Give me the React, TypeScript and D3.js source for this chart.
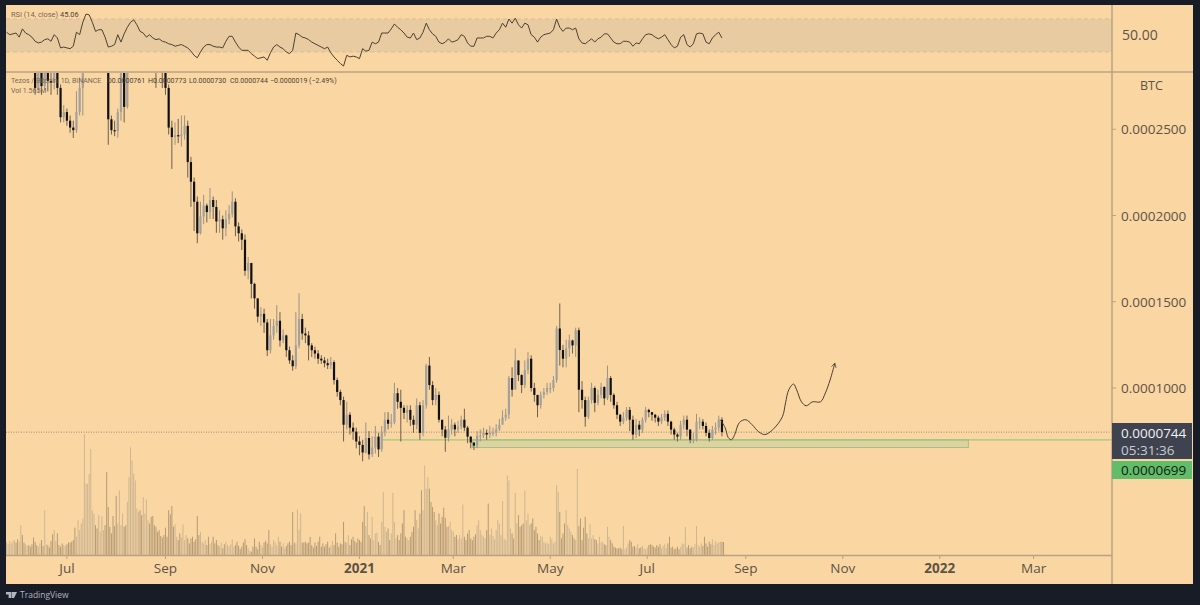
import React from 'react';
import * as d3 from 'd3';

const closes = [
  318,326,334,322,340,330,345,328,300,274,
  290,275,295,278,277,285,274,257,260,255,
  251,249.5,260,274,290,320,340,352,332,346,
  360,310,255.8,249.5,249,260,290,263,300,338,
  350,362,345,358,372,350,340,325,310,295,
  274,251,245.5,246.6,246,247,252,231,219.6,208,
  189.7,199.5,205.8,202,209,205,196.6,197.8,192.6,197.8,
  201,208,193.7,189.7,186,168,172.5,160.4,152,141.4,
  143,138,121.9,130.5,136,139,127.6,130.5,121.9,116,
  112.6,124.7,140,131.6,130.5,124.7,121.9,120,117,116,
  114.4,113.2,115,104.6,97.7,93,78.7,84.5,77,74.7,
  69,67,62.6,71,61.5,65.5,71.8,64.4,74.7,81.6,
  79.3,80,97,92,88.5,85.6,87.3,81.6,78.7,90,
  74,90,113,101.7,93,96,81.6,75.9,71.2,76,
  78.7,76,77.6,81.6,77,71.8,68.4,66.6,72.4,72.4,
  74,73,74,74,76,78.7,82.8,84.5,105.8,99,
  116,107.5,101.7,110.4,117,100,96,90,96,97.7,
  100,100,104.6,134.5,122,117,123,127.6,124.7,133.5,
  99,93,83.3,93,100,91.4,96,100.6,94,105.8,
  96,90,84.5,80.5,82.8,87.3,81.6,73,78.7,75.9,
  81.6,87.3,86,84.5,82.8,80.5,82.8,85,80.5,75.9,
  73,71.8,78.7,81.6,75.9,70,70,80.5,80.5,78,
  74,71,75.9,77,81.6,74.4,
];

const highs = [
  332,335,345,338,350,348,352,345,330,305,
  300,298,305,295,296,300,290,276,264,262,
  258,255,272,280,300,330,350,360,355,355,
  370,365,320,258,255,262,295,295,310,345,
  360,370,365,368,380,375,355,345,330,320,
  296,276,255,254,256,258,258,255,234,222,
  211,208,212,207,216,211,209,203,200,203,
  206,214,210,196,192,189,176,168,161,148,
  147,146,140,140,140,148,144,134,131,124,
  119,144,155,143,135,133,126,124,122,119,
  118,117,118,116,106,99,95,92,86,80,
  77,72,70,80,75,72,78,74,78,86,
  86,85,103,100,99,90,90,90,84,94,
  92,93,114,118,104,100,98,80,78,84,
  82,80,81,84,88,78,72,68,75,76,
  77,76,78,77,79,82,87,88,107,112,
  123,112,108,116,121,119,103,93,98,100,
  103,103,107,136,149,125,128,131,128,135,
  135,104,95,95,103,101,99,103,101,113,
  107,97,92,85,86,89,89,84,82,81,
  83,89,88,86,85,84,85,87,87,81,
  77,74,81,84,84,76,74,85,83,82,
  80,76,78,80,84,83,
];

const lows = [
  310,316,322,315,325,322,330,318,295,270,
  271,270,273,272,270,273,270,254,254,252,
  248,245,248,258,258,295,315,330,325,330,
  340,305,241,247,246,245,255,254,262,298,
  335,340,335,340,350,340,325,274,290,274,
  270,247,227,241,242,240,244,222,205,191,
  184,189,195,196,198,198,190,190,186,188,
  195,199,188,185,180,165,163,152,146,138,
  136,132,118.5,120,128,132,124,126,118,114,
  110,111,123,128,126,116,118,117,114,114,
  112,111,111,102,95,90,69,76,73,70,
  65,61,57.5,62,58.6,60,62,60,63,72,
  76,77,79,88,69,82,80,78,74,76,
  70,72,88,99,90,90,80,72,63,69,
  73,72,74,76,75,68,65,64,65,69,
  71,70,71,72,72,75,79,81,82,95,
  105,104,97,100,108,98,92,83,88,94,
  96,97,98,103,113,112,112,118,120,118,
  86,88,77.6,82,91,86,90,94,90,93,
  92,88,82,78,79,81,75,70,71,72,
  74,80,83,81,80,78,79,81,78,73,
  70,69,70,76,72,68,68,69,76,76,
  72,69,70,73,75,72,
];

const rsiValues = [
  54,51,52,53,48,58,53,51,48,43,
  41,42,45,46,43,51,47,35,36,35,
  34,37,54,51,66,76,75,66,55,57,
  57,48,36,37,39,51,42,52,60,66,
  69,63,55,53,48,51,47,45,46,43,
  42,40,39,37,38,39,37,35,31,26,
  23,30,36,39,39,37,36,36,35,43,
  49,49,42,36,32,32,32,28,25,22,
  23,24,20,29,36,39,36,34,30,28,
  32,53,51,48,47,45,42,40,38,36,
  34,36,29,24,20,16,13,26,24,25,
  24,22,34,31,32,42,40,42,53,53,
  53,58,64,60,57,53,48,47,53,45,
  47,54,65,57,52,49,42,40,42,46,
  42,43,45,51,49,41,37,37,47,47,
  47,49,49,47,53,57,65,60,70,65,
  71,63,59,65,63,51,48,42,48,51,
  52,53,57,70,60,55,59,59,57,59,
  46,41,40,43,46,42,46,48,52,52,
  47,42,40,40,43,43,42,37,41,40,
  46,51,52,51,48,46,48,51,45,39,
  35,37,48,51,39,36,40,52,53,52,
  42,40,47,51,54,47,
];

// volume in millions, one bar per day
const volumes = [
  1.6,1.3,1.7,1.4,1.7,1.8,1.5,1.9,1.6,3.6,
  2.4,1.5,1.3,1.1,1.2,1.0,1.3,2.1,1.6,1.2,
  1.0,1.4,1.8,1.1,5.4,1.3,1.2,0.9,1.7,2.5,
  3.0,1.7,2.6,1.2,1.0,1.4,1.2,1.1,1.3,1.5,
  1.5,1.6,1.8,3.3,2.2,4.2,3.0,3.8,4.4,14.6,
  8.6,8.6,9.8,12.8,5.4,5.0,3.6,3.2,4.8,2.8,
  4.7,3.0,3.6,10.0,5.8,3.4,2.6,4.7,3.5,7.1,
  3.8,7.8,3.6,5.0,3.4,3.6,6.4,9.4,13.0,11.4,
  9.8,9.0,5.6,5.2,5.4,4.8,7.0,5.0,6.7,4.2,
  3.8,4.6,4.7,3.6,3.4,2.8,3.0,2.3,2.1,2.4,
  3.3,2.2,5.4,4.9,5.9,3.4,3.7,2.2,1.8,2.6,
  2.1,3.7,1.8,2.4,2.0,1.4,2.0,2.2,1.6,1.9,
  4.7,2.4,2.8,1.6,1.4,1.8,1.2,2.2,1.3,1.6,
  2.2,1.4,1.8,1.2,1.0,1.5,0.8,1.3,1.6,1.2,
  1.0,1.3,1.9,1.0,1.2,1.6,1.1,0.7,1.0,1.5,
  1.9,1.2,0.8,0.5,0.4,1.0,2.0,1.0,0.7,1.6,
  1.2,0.9,1.5,1.7,1.4,3.0,1.3,1.0,1.8,1.5,
  1.2,2.2,1.6,1.0,1.4,0.8,1.1,1.4,1.6,1.2,
  5.2,1.5,1.4,5.5,3.0,5.0,1.5,1.5,1.6,1.4,
  1.5,2.2,1.2,0.9,1.5,1.1,1.6,2.2,1.0,1.4,
  1.0,1.3,1.6,0.9,1.1,1.7,1.2,2.6,1.5,1.0,
  1.4,1.3,4.0,1.6,1.5,2.4,1.2,1.9,2.2,1.7,
  1.5,2.0,1.8,1.6,4.0,5.9,3.5,5.2,2.4,2.0,
  4.6,1.8,2.6,2.7,1.6,1.2,4.0,7.6,3.4,2.8,
  3.2,1.8,2.6,7.5,4.0,2.0,2.4,1.8,2.6,3.8,
  5.4,2.2,2.0,1.8,2.2,2.8,3.4,5.4,4.2,3.2,
  5.0,7.8,5.4,10.8,8.0,9.4,8.0,6.4,5.8,5.2,
  4.2,3.6,5.0,3.8,4.6,5.7,4.5,3.4,3.5,4.0,
  3.0,2.8,2.2,2.4,1.9,2.4,2.0,6.1,2.2,1.8,
  2.6,3.0,2.0,1.8,2.2,2.5,3.6,4.2,3.0,2.4,
  2.2,2.0,3.0,6.2,2.4,3.2,2.3,1.9,3.0,4.2,
  3.8,2.4,6.5,2.0,1.8,9.6,9.0,3.2,2.6,2.0,
  7.5,3.8,4.8,3.4,3.6,3.8,7.8,4.2,5.0,3.6,
  3.8,4.4,3.0,3.4,2.6,1.8,2.3,2.2,1.6,1.4,
  1.5,1.3,2.2,1.9,1.4,1.6,8.4,7.6,5.2,2.0,
  2.6,3.8,5.4,3.6,3.2,2.8,2.4,2.0,1.8,10.4,
  3.5,4.4,1.8,3.3,4.6,2.6,2.0,3.7,2.0,2.4,
  1.9,1.8,1.4,2.2,1.5,1.6,1.3,1.2,3.4,2.2,
  1.8,1.4,1.0,0.9,0.8,0.8,0.9,0.7,3.5,0.7,
  0.9,1.4,1.8,1.6,1.0,1.1,0.9,1.3,0.8,0.9,
  1.1,0.8,0.7,0.9,1.2,1.3,1.2,1.0,0.9,1.2,
  1.0,1.3,0.8,1.1,1.3,0.8,1.4,2.2,0.9,1.0,
  0.7,0.8,1.0,0.7,1.0,1.4,1.3,3.4,0.9,1.2,
  0.8,1.0,0.9,1.3,3.5,1.2,1.0,1.4,1.1,2.2,
  1.4,1.0,1.6,1.3,1.9,1.2,1.7,1.4,1.5,1.6,
  1.6,1.565,
];

// the hand drawn projection, days since the first candle and price
const forecastDays = [449,452,454,456,458,461,465,469,473,477,482,488,490,492,495,497,500,503,507,512,515,518,521];
const forecastPrices = [81.6,77,71.2,70,73,80,81.6,78.7,74.7,73,75.9,83.3,91.4,98.9,102.3,98.9,92,89.7,92,92,97,104.6,114.4];

const priceTicks = [100, 150, 200, 250];
const lastPrice = 74.4;
const zonePrice = 69.9;
const zoneBottom = 65.5;
const zoneStartDay = 293;
const zoneEndDay = 605;
const zoneLineStartDay = 236;

const timeTicks = [
  { date: '2020-07-01', label: 'Jul' },
  { date: '2020-09-01', label: 'Sep' },
  { date: '2020-11-01', label: 'Nov' },
  { date: '2021-01-01', label: '2021', bold: true },
  { date: '2021-03-01', label: 'Mar' },
  { date: '2021-05-01', label: 'May' },
  { date: '2021-07-01', label: 'Jul' },
  { date: '2021-09-01', label: 'Sep' },
  { date: '2021-11-01', label: 'Nov' },
  { date: '2022-01-01', label: '2022', bold: true },
  { date: '2022-03-01', label: 'Mar' },
];

const FONT = '"Open Sans", "Noto Sans", sans-serif';
const SMALL = 'Roboto, sans-serif';
const BG = '#fad6a3';
const FRAME = '#171c27';
const AXIS = '#b9a283';
const LABEL = '#5c5347';

const firstDay = new Date(Date.UTC(2020, 4, 24));
const dayDate = (d: number) => d3.utcDay.offset(firstDay, d);

const x = d3.scaleUtc()
  .domain([firstDay, new Date(Date.UTC(2021, 8, 1))])
  .range([6.5, 745.8]);
const y = d3.scaleLinear().domain([100, 250]).range([388, 129.3]);
const yRsi = d3.scaleLinear().domain([30, 70]).range([52, 19]);
const yVol = d3.scaleLinear().domain([0, 14.6]).range([555, 434]);

const rsiLine = d3.line<number>()
  .x((_, i) => x(dayDate(i * 2)))
  .y(d => yRsi(d));

const forecastLine = d3.line<number>()
  .x((_, i) => x(dayDate(forecastDays[i])))
  .y(d => y(d))
  .curve(d3.curveCatmullRom);

const fmt = (v: number) => (v / 1e6).toFixed(7);

export default function App() {
  return (
    <svg width={1200} height={605} style={{ position: 'absolute', left: 0, top: 0, display: 'block' }} fontFamily={FONT}>
      <defs>
        <clipPath id="pane"><rect x={6} y={73} width={1106} height={482} /></clipPath>
        <marker id="arrow" viewBox="0 0 10 10" refX="8" refY="5" markerWidth="6" markerHeight="6" orient="auto">
          <path d="M1,1 L8,5 L1,9" fill="none" stroke="#4a3f30" strokeWidth={1.2} />
        </marker>
      </defs>

      <rect width={1200} height={605} fill={FRAME} />
      <rect x={6} y={5} width={1187} height={579} fill={BG} />

      {/* RSI pane */}
      <rect x={6} y={yRsi(70)} width={1106} height={yRsi(30) - yRsi(70)} fill="#e8cba0" />
      {[70, 30].map(v => (
        <line key={v} x1={6} x2={1112} y1={yRsi(v)} y2={yRsi(v)} stroke="#d8bd94" strokeDasharray="4 3" />
      ))}
      <path d={rsiLine(rsiValues) ?? ''} fill="none" stroke="#4b4232" strokeWidth={1} />
      <text x={11} y={17} fontSize={7.4} fontFamily={SMALL} fill="#75695a">RSI (14, close)</text>
      <text x={60} y={17} fontSize={7.4} fontFamily={SMALL} fill="#4a4238">45.06</text>
      <text x={1122} y={40} fontSize={14} fill={LABEL}>50.00</text>

      <line x1={6} x2={1193} y1={72} y2={72} stroke={AXIS} strokeWidth={1.5} />

      {/* volume */}
      {volumes.map((v, i) => {
        const c = closes[Math.floor(i / 2)];
        const o = closes[Math.max(Math.floor(i / 2) - 1, 0)];
        return (
          <rect key={i} x={x(dayDate(i)) - 0.5} width={1} y={yVol(v)} height={yVol(0) - yVol(v)}
            fill={c >= o ? '#cdb691' : '#b39a74'} />
        );
      })}

      {/* last price and the support zone */}
      <line x1={6} x2={1112} y1={y(lastPrice)} y2={y(lastPrice)} stroke="#86796a" strokeDasharray="1 1.5" strokeWidth={0.8} />
      <rect x={x(dayDate(zoneStartDay))} width={x(dayDate(zoneEndDay)) - x(dayDate(zoneStartDay))}
        y={y(zonePrice)} height={y(zoneBottom) - y(zonePrice)} fill="#dcd3a0" stroke="#a9bf85" strokeWidth={1} />
      <line x1={x(dayDate(zoneLineStartDay))} x2={1112} y1={y(zonePrice)} y2={y(zonePrice)} stroke="#8fc377" strokeWidth={1} />

      {/* candles */}
      <g clipPath="url(#pane)">
        {closes.map((c, k) => {
          const o = k === 0 ? c : closes[k - 1];
          const cx = x(dayDate(k * 2));
          const up = c >= o;
          const top = y(Math.max(o, c));
          return (
            <g key={k}>
              <line x1={cx} x2={cx} y1={y(highs[k])} y2={y(lows[k])} stroke={up ? '#9b9384' : '#6d604c'} strokeWidth={1} />
              <rect x={cx - 1.1} width={2.2} y={top} height={Math.max(y(Math.min(o, c)) - top, 1.2)} fill={up ? '#a3a19c' : '#111111'} />
            </g>
          );
        })}
      </g>

      {/* projection */}
      <path d={forecastLine(forecastPrices) ?? ''} fill="none" stroke="#4a3f30" strokeWidth={1} markerEnd="url(#arrow)" />

      {/* legend */}
      <g fontFamily={SMALL} fontSize={7}>
        <text x={11} y={83} fill="#75695a">Tezos / Bitcoin, 1D, BINANCE</text>
        <text x={107} y={83} fill="#4a4238">O0.0000761</text>
        <text x={148} y={83} fill="#4a4238">H0.0000773</text>
        <text x={189} y={83} fill="#4a4238">L0.0000730</text>
        <text x={230} y={83} fill="#4a4238">C0.0000744</text>
        <text x={270} y={83} fill="#4a4238">−0.0000019 (−2.49%)</text>
        <text x={11} y={93} fill="#75695a">Vol  1.565M</text>
      </g>

      {/* axes */}
      <line x1={1112} x2={1112} y1={5} y2={584} stroke={AXIS} strokeWidth={1.5} />
      <line x1={6} x2={1112} y1={555.5} y2={555.5} stroke={AXIS} strokeWidth={1.5} />
      <text x={1140} y={90} fontSize={12.5} fill={LABEL}>BTC</text>
      {priceTicks.map(t => (
        <g key={t}>
          <line x1={1112} x2={1116} y1={y(t)} y2={y(t)} stroke={AXIS} />
          <text x={1121} y={y(t) + 5} fontSize={13.5} fill={LABEL}>{fmt(t)}</text>
        </g>
      ))}
      {timeTicks.map(t => {
        const tx = x(new Date(t.date + 'T00:00:00Z'));
        return (
          <g key={t.date + t.label}>
            <line x1={tx} x2={tx} y1={555.5} y2={559} stroke={AXIS} />
            <text x={tx} y={573} fontSize={13.5} textAnchor="middle" fontWeight={t.bold ? 700 : 400} fill={LABEL}>{t.label}</text>
          </g>
        );
      })}

      {/* price labels */}
      <rect x={1112} y={423} width={80} height={36} fill="#3f4350" />
      <text x={1121} y={438} fontSize={13.5} fill="#f2f2f2">{fmt(lastPrice)}</text>
      <text x={1121} y={455} fontSize={13.5} fill="#c9ccd4">05:31:36</text>
      <rect x={1112} y={461} width={80} height={18} fill="#62bd6b" />
      <text x={1121} y={475} fontSize={13.5} fill="#10200f">{fmt(zonePrice)}</text>

      {/* footer */}
      <path d="M6,592 h5 v6 h-2.4 v-3.6 h-2.6 z M11.5,592 h5.5 l-3,6 h-2.5 z" fill="#b2b5be" />
      <text x={20} y={598} fontSize={8.5} fill="#b2b5be">TradingView</text>
    </svg>
  );
}
